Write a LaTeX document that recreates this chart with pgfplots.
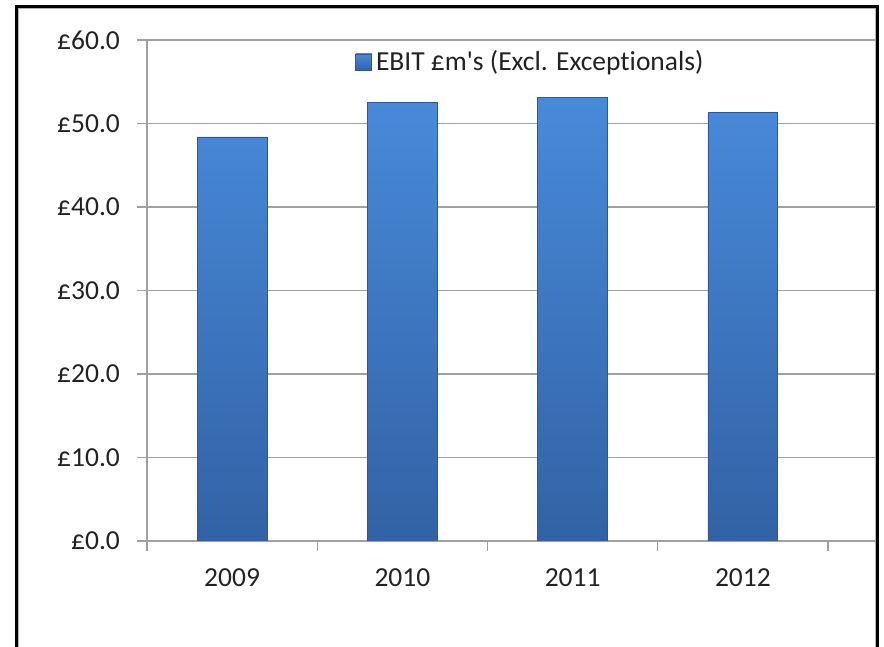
\documentclass[border=0pt]{standalone}
\usepackage{pgfplots}
\pgfplotsset{compat=1.18}
\usepackage{fontspec}
\setmainfont{Carlito}[Ligatures=NoCommon]
\definecolor{gridgray}{HTML}{A0A0A0}
\definecolor{bartop}{RGB}{72,138,218}
\definecolor{barbot}{RGB}{50,98,165}
\definecolor{baredge}{RGB}{45,88,150}
\definecolor{txt}{HTML}{222222}
\newcommand{\cf}{\fontsize{13.75}{16}\selectfont}
\begin{document}
\begin{tikzpicture}
\path[use as bounding box] (-73.5pt,-53pt) rectangle (368.5pt,270.5pt);
\begin{axis}[
  at={(0pt,0pt)}, anchor=south west,
  scale only axis, width=364pt, height=250.5pt,
  xmin=-0.5, xmax=3.776, ymin=0, ymax=60,
  axis x line*=bottom, axis y line*=left,
  axis line style={gridgray, line width=0.6pt, -},
  ytick={0,10,...,60},
  yticklabels={£0.0,£10.0,£20.0,£30.0,£40.0,£50.0,£60.0},
  xtick={-0.5,0.5,1.5,2.5,3.5}, xticklabels={},
  extra x ticks={0,1,2,3}, extra x tick labels={2009,2010,2011,2012},
  extra x tick style={major tick length=0pt, grid=none, xticklabel style={yshift=-10.5pt}},
  tick align=outside, major tick length=5pt,
  tick style={gridgray, line width=0.6pt},
  ymajorgrids, grid style={gridgray, line width=0.6pt},
  tick label style={font=\cf, text=txt},
  yticklabel style={xshift=-5pt},
  ybar, bar width=0.41, bar shift=0pt,
  legend style={at={(axis cs:0.722,57.37)}, anchor=west, draw=none, fill=none, font=\cf, text=txt, inner sep=0pt},
  legend image code/.code={\shade[top color=bartop, bottom color=barbot, draw=baredge, line width=0.3pt] (0pt,-4pt) rectangle (8pt,4pt);},
]
\addplot[ybar, top color=bartop, bottom color=barbot, draw=baredge, line width=0.3pt]
  coordinates {(0,48.4) (1,52.5) (2,53.1) (3,51.3)};
\addlegendentry{EBIT £m\textquotesingle s (Excl. Exceptionals)}
\end{axis}
\draw[black, line width=1.5pt] (-65.35pt,-60pt) -- (-65.35pt,267.3pt) -- (365.35pt,267.3pt) -- (365.35pt,-60pt);
\draw[gray!60, line width=0.6pt] (-64.15pt,-60pt) -- (-64.15pt,266.15pt) -- (364.15pt,266.15pt) -- (364.15pt,-60pt);
\end{tikzpicture}
\end{document}
